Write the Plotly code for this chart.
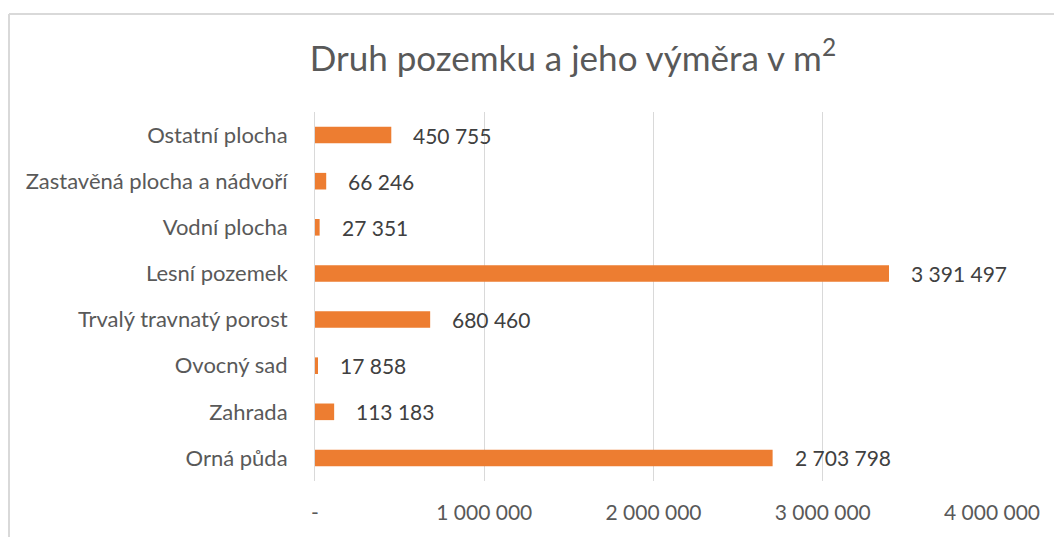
import plotly.graph_objects as go

# --- DATA ---
kategorie = ['Orná půda', 'Zahrada', 'Ovocný sad', 'Trvalý travnatý porost',
             'Lesní pozemek', 'Vodní plocha', 'Zastavěná plocha a nádvoří', 'Ostatní plocha']
vymera = [2703798, 113183, 17858, 680460, 3391497, 27351, 66246, 450755]

tick_hodnoty = [0, 1000000, 2000000, 3000000, 4000000]
tick_popisky = ['-', '1 000 000', '2 000 000', '3 000 000', '4 000 000']

SEDA = '#595959'
ORANZOVA = '#ED7D31'
FONT = 'Lato'

# stranka ma okraj 8 px, proto je graf o 8 px mensi
W, H = 1054, 529
L, R, T, B = 307, 70, 104, 56
PW, PH = W - L - R, H - T - B


def s_mezerami(v):
    return f'{v:,}'.replace(',', ' ')


fig = go.Figure(go.Bar(
    x=vymera, y=kategorie, orientation='h',
    marker=dict(color=ORANZOVA, line=dict(width=0)),
    width=0.36,
))

# popisky hodnot vedle sloupců
for kat, v in zip(kategorie, vymera):
    fig.add_annotation(x=v, y=kat, text=s_mezerami(v), showarrow=False,
                       xanchor='left', xshift=20,
                       font=dict(family=FONT, size=21, color='#404040'))

ramecek_x = (1 - L) / PW
ramecek_y = (H - B - 6) / PH

fig.update_layout(
    width=W, height=H,
    margin=dict(l=L, r=R, t=T, b=B),
    paper_bgcolor='white', plot_bgcolor='white',
    showlegend=False,
    title=dict(text='Druh pozemku a jeho výměra v m<sup>2</sup>',
               x=0.536, xanchor='center', y=0.905, yanchor='middle',
               font=dict(family=FONT, size=35, color=SEDA)),
    font=dict(family=FONT, color=SEDA),
    xaxis=dict(range=[0, 4000000], tickvals=tick_hodnoty, ticktext=tick_popisky,
               showgrid=True, gridcolor='#d9d9d9', gridwidth=1,
               zeroline=False, showline=False, ticks='', ticklabelstandoff=17,
               tickfont=dict(family=FONT, size=21, color=SEDA)),
    yaxis=dict(showgrid=False, zeroline=False, showline=True, linecolor='#d9d9d9',
               linewidth=1, ticks='', ticklabelstandoff=22,
               tickfont=dict(family=FONT, size=22, color=SEDA)),
    shapes=[
        dict(type='line', xref='paper', yref='paper', x0=ramecek_x, x1=(W - L) / PW,
             y0=ramecek_y, y1=ramecek_y, line=dict(color='#d9d9d9', width=2)),
        dict(type='line', xref='paper', yref='paper', x0=ramecek_x, x1=ramecek_x,
             y0=ramecek_y, y1=-B / PH - 0.05, line=dict(color='#d9d9d9', width=2)),
    ],
)

fig.write_html('out.html')
